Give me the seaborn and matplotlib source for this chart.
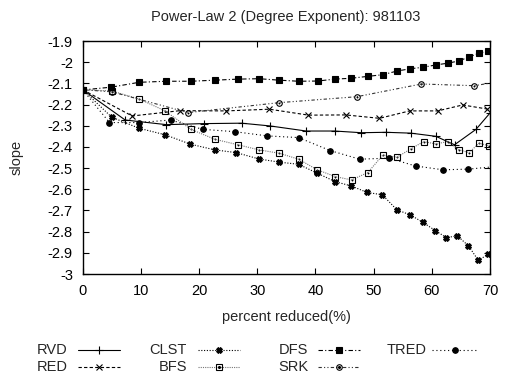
import numpy as np
import pandas as pd
import matplotlib
matplotlib.use("Agg")
import matplotlib.pyplot as plt
from matplotlib.lines import Line2D
from matplotlib.ticker import FormatStrFormatter
import seaborn as sns

# values (percent reduced vs slope)
rvd_x = [0, 7.3, 14.4, 20.8, 27.3, 32.2, 38.4, 43.3, 47.9, 52.1, 56.4, 60.7, 63.9, 67.6, 70]
rvd_y = [-2.13, -2.273, -2.295, -2.29, -2.288, -2.301, -2.325, -2.325, -2.333, -2.331, -2.335, -2.35, -2.39, -2.317, -2.24]

red_x = [0, 8.5, 16.7, 24.7, 32.1, 38.8, 45.2, 51.0, 56.2, 61.0, 65.3, 69.5]
red_y = [-2.13, -2.254, -2.229, -2.23, -2.222, -2.25, -2.249, -2.265, -2.23, -2.23, -2.202, -2.221]

clst_x = [0, 5.0, 9.7, 14.2, 18.5, 22.7, 26.4, 30.3, 33.8, 37.1, 40.3, 43.4, 46.1, 48.9, 51.5,
          54.0, 56.3, 58.4, 60.6, 62.5, 64.4, 66.3, 68.0, 69.7]
clst_y = [-2.13, -2.26, -2.312, -2.343, -2.387, -2.414, -2.427, -2.457, -2.472, -2.482, -2.524, -2.564,
          -2.584, -2.615, -2.626, -2.697, -2.721, -2.755, -2.795, -2.828, -2.82, -2.867, -2.936, -2.906]

bfs_x = [0, 5.0, 9.7, 14.1, 18.6, 22.7, 26.7, 30.3, 33.8, 37.1, 40.3, 43.4, 46.2, 49.0, 51.6,
         54.0, 56.4, 58.6, 60.7, 62.7, 64.7, 66.4, 68.1, 69.8]
bfs_y = [-2.13, -2.136, -2.174, -2.229, -2.317, -2.364, -2.39, -2.414, -2.43, -2.458, -2.508, -2.54,
         -2.556, -2.521, -2.438, -2.449, -2.409, -2.375, -2.386, -2.375, -2.414, -2.427, -2.383, -2.394]

dfs_x = [0, 4.9, 9.7, 14.4, 18.6, 22.7, 26.7, 30.3, 33.8, 37.1, 40.4, 43.3, 46.1, 49.0, 51.6,
         54.0, 56.3, 58.5, 60.7, 62.7, 64.7, 66.4, 68.1, 69.7]
dfs_y = [-2.131, -2.118, -2.095, -2.09, -2.09, -2.085, -2.08, -2.078, -2.085, -2.09, -2.089, -2.08,
         -2.076, -2.067, -2.059, -2.042, -2.031, -2.024, -2.013, -2.005, -1.994, -1.975, -1.958, -1.947]

srk_x = [0, 5.0, 18.1, 33.8, 47.1, 58.2, 67.3, 72.0]
srk_y = [-2.13, -2.14, -2.238, -2.191, -2.163, -2.103, -2.111, -2.09]

tred_x = [0, 4.6, 9.7, 15.1, 20.6, 26.1, 31.7, 37.1, 42.5, 47.6, 52.6, 57.2, 61.9, 66.3, 72.0]
tred_y = [-2.13, -2.285, -2.285, -2.273, -2.317, -2.328, -2.348, -2.356, -2.417, -2.458, -2.453,
          -2.49, -2.508, -2.505, -2.49]

# name, x, y, marker, linestyle, line colour, marker face, centre dot
series = [
    ("RVD", rvd_x, rvd_y, "+", "-", "black", "none", False),
    ("RED", red_x, red_y, "x", (0, (3, 2)), "black", "none", False),
    ("CLST", clst_x, clst_y, "X", (0, (1, 1.5)), "black", "black", False),
    ("BFS", bfs_x, bfs_y, "s", (0, (1, 1)), "#777777", "none", True),
    ("DFS", dfs_x, dfs_y, "s", (0, (4, 2, 1, 2)), "black", "black", False),
    ("SRK", srk_x, srk_y, "o", (0, (3, 2, 1, 2, 1, 2)), "#333333", "none", True),
    ("TRED", tred_x, tred_y, "o", (0, (1, 2.5)), "black", "black", False),
]

# legend layout (figure pixels): label right edge, sample line start/end, row y
leg_pos = {
    "RVD": (68, 78, 120, 350), "RED": (68, 78, 120, 367),
    "CLST": (187, 198, 240, 350), "BFS": (187, 198, 240, 367),
    "DFS": (308, 318, 360, 350), "SRK": (308, 318, 360, 367),
    "TRED": (427, 432, 478, 350),
}

sns.set_style("ticks")
plt.rcParams["font.family"] = ["Liberation Sans", "DejaVu Sans"]

W, H = 505, 374
fig = plt.figure(figsize=(W / 100, H / 100), dpi=100)
ax = fig.add_axes([82.7 / W, 1 - 274 / H, (490 - 82.7) / W, (274 - 41) / H])

for name, xs, ys, mk, ls, col, fc, dot in series:
    df = pd.DataFrame({"x": xs, "y": ys})
    ms = 6 if mk == "+" else 4
    sns.lineplot(data=df, x="x", y="y", ax=ax, sort=False, legend=False,
                 color=col, linestyle=ls, linewidth=0.8,
                 marker=mk, markersize=ms,
                 markerfacecolor=fc, markeredgecolor="black", markeredgewidth=0.8)
    if dot:
        sns.scatterplot(data=df, x="x", y="y", ax=ax, s=2, color="black",
                        linewidth=0, legend=False)

    tx, lx0, lx1, ly = leg_pos[name]
    fig.text(tx / W, 1 - ly / H, name, ha="right", va="center", fontsize=10.5)
    fig.add_artist(Line2D([lx0 / W, lx1 / W], [1 - ly / H] * 2, color=col,
                          linestyle=ls, linewidth=0.8))
    fig.add_artist(Line2D([(lx0 + lx1) / 2 / W], [1 - ly / H], marker=mk, markersize=ms,
                          markerfacecolor=fc, markeredgecolor="black",
                          markeredgewidth=0.8, linestyle="none"))
    if dot:
        fig.add_artist(Line2D([(lx0 + lx1) / 2 / W], [1 - ly / H], marker="o",
                              markersize=1.2, color="black", linestyle="none"))

ax.set_xlim(0, 70)
ax.set_ylim(-3, -1.9)
ax.set_xticks(np.arange(0, 71, 10))
ax.set_yticks(np.round(np.arange(-3, -1.85, 0.1), 1))
ax.yaxis.set_major_formatter(FormatStrFormatter("%g"))
ax.tick_params(direction="in", top=True, right=True, length=4, width=0.8,
               labelsize=10.5, colors="black", pad=7)
for sp in ax.spines.values():
    sp.set_linewidth(1.0)
    sp.set_color("black")
ax.set_xlabel("")
ax.set_ylabel("")

fig.text(286 / W, 1 - 17 / H, "Power-Law 2 (Degree Exponent): 981103", ha="center", va="center", fontsize=10.5)
fig.text(286 / W, 1 - 317 / H, "percent reduced(%)", ha="center", va="center", fontsize=10.5)
fig.text(17 / W, 1 - 157 / H, "slope", ha="center", va="center", rotation=90, fontsize=10.5)

fig.savefig("out.png", dpi=100)
